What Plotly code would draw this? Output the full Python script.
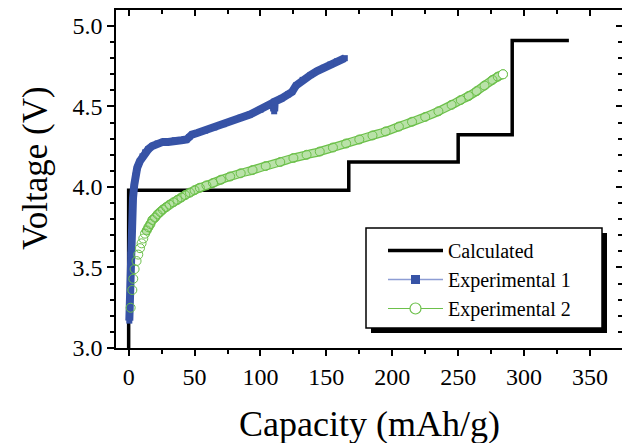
import plotly.graph_objects as go

# ---- data ----
calc_capacity = [0, 0, 167, 250, 291, 334]
calc_voltage = [3.0, 3.98, 4.155, 4.325, 4.91, 4.91]

exp1_capacity = [0.5, 0.8, 1.1, 1.5, 2.0, 2.6, 3.3, 4.2, 5.2, 6.5, 8.5, 10.5, 12.5, 15, 18, 22, 26, 30,
                 35, 40, 44, 46, 48, 52, 58, 65, 72, 78, 85, 92, 100, 106, 110, 110.4, 110.8, 116,
                 121, 124, 127, 132, 138, 143, 148, 153, 158, 164]
exp1_voltage = [3.17, 3.30, 3.45, 3.58, 3.72, 3.84, 3.93, 4.01, 4.07, 4.12, 4.16, 4.19, 4.215, 4.235,
                4.255, 4.27, 4.28, 4.28, 4.29, 4.29, 4.295, 4.31, 4.325, 4.335, 4.35, 4.37, 4.39, 4.41,
                4.43, 4.45, 4.48, 4.505, 4.525, 4.47, 4.53, 4.55, 4.575, 4.59, 4.63, 4.665, 4.695,
                4.72, 4.74, 4.76, 4.78, 4.80]

exp2_capacity = [1.5, 2.8, 3.5, 4.5, 6, 7.3, 8.6, 9.8, 11.1, 12.4, 13.7, 15, 16.5, 18, 20, 22, 24, 26,
                 28.5, 31, 34, 37, 40, 43, 46.5, 50, 54, 59, 64, 70, 77, 85, 94, 104, 115, 125, 135,
                 145, 155, 165, 175, 185, 195, 205, 215, 225, 235, 245, 252, 258, 264, 270, 276, 280, 284]
exp2_voltage = [3.25, 3.36, 3.43, 3.49, 3.54, 3.58, 3.62, 3.65, 3.68, 3.71, 3.73, 3.75, 3.77, 3.795,
                3.81, 3.83, 3.845, 3.86, 3.875, 3.89, 3.905, 3.92, 3.935, 3.95, 3.965, 3.98, 3.995,
                4.01, 4.025, 4.045, 4.065, 4.085, 4.105, 4.13, 4.155, 4.18, 4.20, 4.22, 4.245, 4.27,
                4.295, 4.32, 4.345, 4.375, 4.405, 4.435, 4.47, 4.51, 4.54, 4.565, 4.595, 4.63, 4.665,
                4.685, 4.70]

x_ticks = [0, 50, 100, 150, 200, 250, 300, 350]
y_ticks = [3.0, 3.5, 4.0, 4.5, 5.0]
y_tick_text = ["3.0", "3.5", "4.0", "4.5", "5.0"]

BLUE = "#3753a6"
BLUE_LIGHT = "#8d9dd4"
GREEN = "#6cc04a"
FONT = "Liberation Serif"

W, H = 622, 443
ML, MR, MT, MB = 116, 0, 10, 95
PW, PH = W - ML - MR, H - MT - MB
X_RANGE = [-9.6, 374.3]
Y_RANGE = [3.0, 5.099]


def px2paper(px, py):
    return (px - ML) / PW, (H - MB - py) / PH


fig = go.Figure()

# Calculated
fig.add_trace(go.Scatter(x=calc_capacity, y=calc_voltage, mode="lines",
                         line=dict(color="black", width=3.5, shape="hv"),
                         showlegend=False, hoverinfo="skip"))
# Experimental 1 (dense squares -> thick band)
fig.add_trace(go.Scatter(x=exp1_capacity, y=exp1_voltage, mode="lines+markers",
                         line=dict(color=BLUE, width=8),
                         marker=dict(symbol="square", size=6, color=BLUE),
                         showlegend=False))
# Experimental 2 (dense open circles -> tube)
k = next(i for i, v in enumerate(exp2_capacity) if v >= 12)
fig.add_trace(go.Scatter(x=exp2_capacity[k:], y=exp2_voltage[k:], mode="lines",
                         line=dict(color=GREEN, width=9, shape="spline"), showlegend=False, hoverinfo="skip"))
fig.add_trace(go.Scatter(x=exp2_capacity[k:], y=exp2_voltage[k:], mode="lines",
                         line=dict(color="#b9e2a8", width=6.5, shape="spline"), showlegend=False, hoverinfo="skip"))
fig.add_trace(go.Scatter(x=exp2_capacity, y=exp2_voltage, mode="markers",
                         marker=dict(symbol="circle-open", size=9, color=GREEN, line=dict(color=GREEN, width=1)),
                         showlegend=False))
fig.add_trace(go.Scatter(x=exp2_capacity[-1:], y=exp2_voltage[-1:], mode="markers",
                         marker=dict(symbol="circle", size=9, color="white", line=dict(color=GREEN, width=1)),
                         showlegend=False, hoverinfo="skip"))

# Legend entries
fig.add_trace(go.Scatter(x=[None], y=[None], mode="lines", line=dict(color="black", width=3.5), name="Calculated"))
fig.add_trace(go.Scatter(x=[None], y=[None], mode="lines+markers", line=dict(color=BLUE_LIGHT, width=1.5),
                         marker=dict(symbol="square", size=9, color=BLUE), name="Experimental 1"))
fig.add_trace(go.Scatter(x=[None], y=[None], mode="lines+markers", line=dict(color=GREEN, width=1.2),
                         marker=dict(symbol="circle", size=11, color="white", line=dict(color=GREEN, width=1.2)),
                         name="Experimental 2"))
# dummy trace for mirrored axes
fig.add_trace(go.Scatter(x=[None], y=[None], xaxis="x2", yaxis="y2", showlegend=False, hoverinfo="skip"))

axis_font = dict(family=FONT, size=24, color="black")
common = dict(tickwidth=1.5, tickcolor="black", showline=True, linecolor="black", linewidth=1.5,
              showgrid=False, zeroline=False, automargin=False)

lx, ly = px2paper(383, 231)
fig.update_layout(
    width=W, height=H,
    margin=dict(l=ML, r=MR, t=MT, b=MB, autoexpand=False),
    paper_bgcolor="white", plot_bgcolor="white",
    font=dict(family=FONT, color="black"),
    xaxis=dict(range=X_RANGE, tickvals=x_ticks, ticks="outside", ticklen=6, tickfont=axis_font,
               minor=dict(dtick=25, tick0=0, ticks="outside", ticklen=4, tickwidth=1.5, tickcolor="black"),
               **common),
    yaxis=dict(range=Y_RANGE, tickvals=y_ticks, ticktext=y_tick_text, ticks="outside", ticklen=7,
               tickfont=axis_font,
               minor=dict(dtick=0.1, tick0=3.0, ticks="outside", ticklen=4, tickwidth=1.5, tickcolor="black"),
               **common),
    xaxis2=dict(range=X_RANGE, overlaying="x", side="top", anchor="y2", tickvals=x_ticks, ticks="inside",
                ticklen=6, showticklabels=False,
                minor=dict(dtick=25, tick0=0, ticks="inside", ticklen=4, tickwidth=1.5, tickcolor="black"),
                **common),
    yaxis2=dict(range=Y_RANGE, overlaying="y", side="right", anchor="x2", tickvals=y_ticks, ticks="inside",
                ticklen=6, showticklabels=False,
                minor=dict(dtick=0.1, tick0=3.0, ticks="inside", ticklen=4, tickwidth=1.5, tickcolor="black"),
                **common),
    legend=dict(x=lx, y=ly, xanchor="left", yanchor="top",
                bgcolor="rgba(0,0,0,0)", borderwidth=0,
                font=dict(family=FONT, size=20, color="black"), itemwidth=55, tracegroupgap=0),
    showlegend=True,
)

# axis titles
tx, ty = px2paper(0, 424)
fig.add_annotation(text="Capacity (mAh/g)", xref="paper", yref="paper", x=0.5, y=ty,
                   xanchor="center", yanchor="middle", showarrow=False,
                   font=dict(family=FONT, size=36, color="black"))
tx, ty = px2paper(36, 168)
fig.add_annotation(text="Voltage (V)", xref="paper", yref="paper", x=tx, y=ty, textangle=-90,
                   xanchor="center", yanchor="middle", showarrow=False,
                   font=dict(family=FONT, size=35, color="black"))

# legend box with drop shadow
sx0, sy1 = px2paper(371, 233)
sx1, sy0 = px2paper(607, 333)
fig.add_shape(type="rect", xref="paper", yref="paper", x0=sx0, x1=sx1, y0=sy0, y1=sy1,
              fillcolor="black", line=dict(width=0), layer="above")
bx0, by1 = px2paper(366, 228)
bx1, by0 = px2paper(602, 328)
fig.add_shape(type="rect", xref="paper", yref="paper", x0=bx0, x1=bx1, y0=by0, y1=by1,
              fillcolor="white", line=dict(color="black", width=1.5), layer="above")

fig.write_html(
    "out.html",
    config={"displayModeBar": False},
    post_script="document.body.style.margin='0';document.body.style.padding='0';"
                "document.body.style.overflow='hidden';document.documentElement.style.overflow='hidden';",
)
